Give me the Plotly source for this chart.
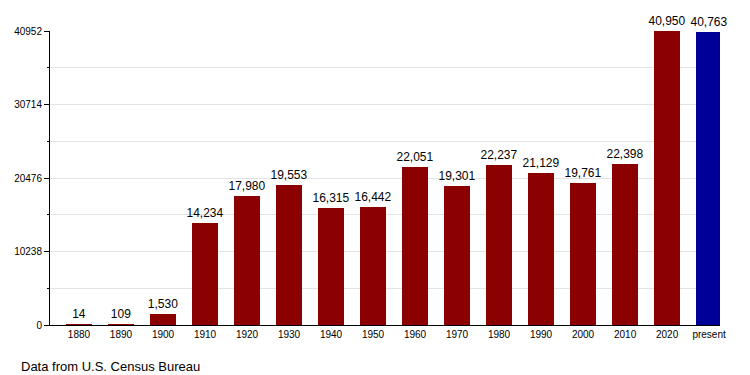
import plotly.graph_objects as go

categories = ["1880", "1890", "1900", "1910", "1920", "1930", "1940", "1950",
              "1960", "1970", "1980", "1990", "2000", "2010", "2020", "present"]
population = [14, 109, 1530, 14234, 17980, 19553, 16315, 16442,
              22051, 19301, 22237, 21129, 19761, 22398, 40950, 40763]
bar_colors = ["#8b0000"] * 15 + ["#000099"]
y_ticks = [0, 10238, 20476, 30714, 40952]

fig = go.Figure()
fig.add_trace(go.Bar(
    x=list(range(len(categories))),
    y=population,
    marker=dict(color=bar_colors, line=dict(width=0)),
    width=0.62,
    text=[f"{v:,}" for v in population],
    textposition="outside",
    constraintext="none",
    textfont=dict(size=12, color="#000000"),
    cliponaxis=False,
    hoverinfo="skip",
))

fig.update_layout(
    width=742, height=367,
    margin=dict(l=42, r=30, t=23, b=50, autoexpand=False),
    paper_bgcolor="white", plot_bgcolor="white",
    font=dict(family="Liberation Sans, Arial, sans-serif", color="#000000"),
    showlegend=False,
    bargap=0,
    xaxis=dict(
        range=[-0.69, 15.26],
        tickmode="array",
        tickvals=list(range(len(categories))),
        ticktext=categories,
        tickfont=dict(size=10),
        showgrid=False, zeroline=False,
        showline=True, linecolor="#000000", linewidth=1,
        ticks="",
        fixedrange=True,
        automargin=False,
    ),
    yaxis=dict(
        range=[0, 40952],
        tickmode="array",
        tickvals=y_ticks,
        ticktext=[str(v) for v in y_ticks],
        tickfont=dict(size=10),
        showgrid=True, gridcolor="#e3e3e3", gridwidth=1,
        zeroline=False,
        showline=True, linecolor="#000000", linewidth=1,
        ticks="outside", ticklen=5, tickcolor="#000000",
        minor=dict(tick0=0, dtick=5119, ticks="outside", ticklen=2,
                   tickcolor="#000000", showgrid=True, gridcolor="#e3e3e3"),
        fixedrange=True,
        automargin=False,
    ),
)

fig.add_annotation(
    text="Data from U.S. Census Bureau",
    xref="paper", yref="paper",
    x=-31/670, y=-32/294,
    xanchor="left", yanchor="top",
    showarrow=False,
    font=dict(size=13, color="#000000"),
)

fig.write_html("out.html")
